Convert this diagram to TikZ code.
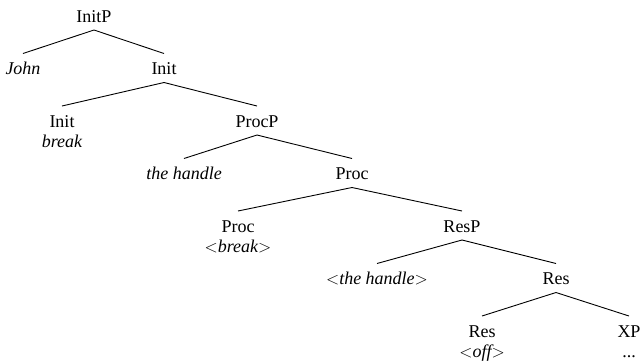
\documentclass[tikz,border=0pt]{standalone}
\usepackage{fontspec}
\setmainfont{Liberation Serif}
\begin{document}
\begin{tikzpicture}[x=1pt,y=-1pt,
  lab/.style={inner sep=0pt,text height=12pt,text depth=0pt,font=\fontsize{18}{20}\selectfont},
  sub/.style={lab,font=\fontsize{18}{20}\selectfont\itshape},
  br/.style={line width=0.9pt}]
\useasboundingbox (0,0) rectangle (640,360);
\node[lab] (initp) at (94,16) {InitP};
\node[sub] (john) at (23,68.5) {John};
\node[lab] (init1) at (164,68.5) {Init};
\node[lab] (init2) at (62,121) {Init};
\node[sub] (initb) at (62,141) {break};
\node[lab] (procp) at (257,121) {ProcP};
\node[sub] (hand1) at (184,173.5) {the handle};
\node[lab] (proc1) at (352,173.5) {Proc};
\node[lab] (proc2) at (238,226) {Proc};
\node[sub] (procb) at (238,246) {$<$break$>$};
\node[lab] (resp) at (462,226) {ResP};
\node[sub] (hand2) at (377,278.5) {$<$the handle$>$};
\node[lab] (res1) at (556,278.5) {Res};
\node[lab] (res2) at (482,331) {Res};
\node[sub] (resb) at (482,351) {$<$off$>$};
\node[lab] (xp) at (629,331) {XP};
\node[lab] (xpb) at (629,351) {...};
\foreach \p/\c in {initp/john,initp/init1,init1/init2,init1/procp,procp/hand1,procp/proc1,proc1/proc2,proc1/resp,resp/hand2,resp/res1,res1/res2,res1/xp}
  \draw[br] ([yshift=-14pt]\p.center) -- ([yshift=15pt]\c.center);
\end{tikzpicture}
\end{document}
